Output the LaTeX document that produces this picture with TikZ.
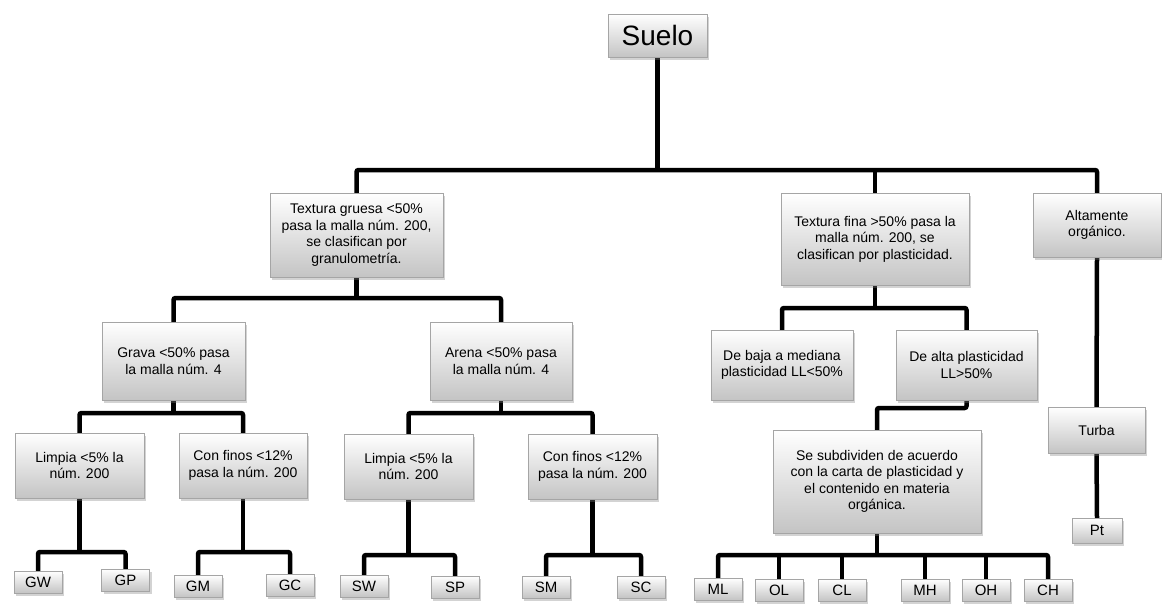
\documentclass[tikz,border=0pt]{standalone}
\usepackage{fontspec}
\setmainfont{Liberation Sans}
\usepackage{tikz}
\usetikzlibrary{shadows,calc,backgrounds}
\definecolor{boxline}{RGB}{165, 165, 165}
\definecolor{boxlow}{RGB}{196, 196, 196}

\tikzset{
  soilbox/.style={draw=boxline, line width=0.6pt, top color=white, bottom color=boxlow,
    drop shadow={shadow xshift=2pt, shadow yshift=-3pt, opacity=0.35},
    inner sep=0pt, align=center, font=\fontsize{14}{16.5}\selectfont},
  leafbox/.style={soilbox, minimum width=48pt, minimum height=22pt, font=\fontsize{15}{17}\selectfont},
  link/.style={line width=4.5pt, rounded corners=2pt, line cap=rect}
}

\begin{document}
\begin{tikzpicture}[x=1pt, y=-1pt]
        \useasboundingbox (0,0) rectangle (1162,603);
        % Root and first level
        \node[soilbox, minimum width=99pt, minimum height=43pt, font=\fontsize{28}{30}\selectfont] (suelo) at (657.5, 35.5) {Suelo};
        \node[soilbox, minimum width=173pt, minimum height=84pt] (gruesa) at (356.5, 235) {Textura gruesa <50\%\\pasa la malla núm. 200,\\se clasifican por\\granulometría.};
        \node[soilbox, minimum width=188pt, minimum height=92pt] (fina) at (875, 239) {Textura fina >50\% pasa la\\malla núm. 200, se\\clasifican por plasticidad.};
        \node[soilbox, minimum width=128pt, minimum height=64pt] (organico) at (1097, 225) {Altamente\\orgánico.};
        
        % Second level
        \node[soilbox, minimum width=143pt, minimum height=78pt] (grava) at (173.5, 361) {Grava <50\% pasa\\la malla núm. 4};
        \node[soilbox, minimum width=142pt, minimum height=78pt] (arena) at (501, 361) {Arena <50\% pasa\\la malla núm. 4};
        \node[soilbox, minimum width=142pt, minimum height=70pt] (baja) at (782, 365) {De baja a mediana\\plasticidad LL<50\%};
        \node[soilbox, minimum width=141pt, minimum height=70pt] (alta) at (966.5, 365) {De alta plasticidad\\LL>50\%};
        \node[soilbox, minimum width=97pt, minimum height=46pt] (turba) at (1096.5, 430) {Turba};
        
        % Third level
        \node[soilbox, minimum width=129pt, minimum height=65pt] (limpiaG) at (79.5, 465.5) {Limpia <5\% la\\núm. 200};
        \node[soilbox, minimum width=128pt, minimum height=65pt] (finosG) at (243, 465.5) {Con finos <12\%\\pasa la núm. 200};
        \node[soilbox, minimum width=129pt, minimum height=65pt] (limpiaS) at (408.5, 466.5) {Limpia <5\% la\\núm. 200};
        \node[soilbox, minimum width=129pt, minimum height=65pt] (finosS) at (592.5, 466.5) {Con finos <12\%\\pasa la núm. 200};
        \node[soilbox, minimum width=208pt, minimum height=103pt] (subdiv) at (877, 481.5) {Se subdividen de acuerdo\\con la carta de plasticidad y\\el contenido en materia\\orgánica.};
        
        % Group symbols
        \node[leafbox] (gw) at (38, 582) {GW};
        \node[leafbox] (gp) at (125.5, 580) {GP};
        \node[leafbox] (gm) at (198, 586) {GM};
        \node[leafbox] (gc) at (290, 585) {GC};
        \node[leafbox] (sw) at (364, 586) {SW};
        \node[leafbox] (sp) at (455, 587) {SP};
        \node[leafbox] (sm) at (546, 587) {SM};
        \node[leafbox] (sc) at (641, 587) {SC};
        \node[leafbox] (ml) at (718, 589) {ML};
        \node[leafbox] (ol) at (779, 590) {OL};
        \node[leafbox] (cl) at (842, 590) {CL};
        \node[leafbox] (mh) at (925, 590) {MH};
        \node[leafbox] (oh) at (986, 590) {OH};
        \node[leafbox] (ch) at (1048, 590) {CH};
        \node[leafbox, minimum width=50pt, minimum height=25pt] (pt) at (1097, 530.5) {Pt};
        
        % Bus heights
        \coordinate (bus1) at (0, 170);
        \coordinate (bus2) at (0, 298);
        \coordinate (bus3) at (0, 308);
        \coordinate (bus4) at (0, 413);
        \coordinate (bus5) at (0, 408);
        \coordinate (bus6) at (0, 552);
        \coordinate (bus7) at (0, 555);
        
        \begin{scope}[on background layer]
        % Suelo to first level
        \draw[link] (suelo.south) -- (suelo.south |- bus1);
        \draw[link] (gruesa.north) -- (gruesa.north |- bus1) -- (organico.north |- bus1) -- (organico.north);
        \draw[link] (fina.north) -- (fina.north |- bus1);
        
        % Textura gruesa
        \draw[link] (gruesa.south) -- (gruesa.south |- bus2);
        \draw[link] (grava.north) -- (grava.north |- bus2) -- (arena.north |- bus2) -- (arena.north);
        \draw[link] (grava.south) -- (grava.south |- bus4);
        \draw[link] (limpiaG.north) -- (limpiaG.north |- bus4) -- (finosG.north |- bus4) -- (finosG.north);
        \draw[link] (arena.south) -- (arena.south |- bus4);
        \draw[link] (limpiaS.north) -- (limpiaS.north |- bus4) -- (finosS.north |- bus4) -- (finosS.north);
        \draw[link] (limpiaG.south) -- (limpiaG.south |- bus6);
        \draw[link] (gw.north) -- (gw.north |- bus6) -- (gp.north |- bus6) -- (gp.north);
        \draw[link] (finosG.south) -- (finosG.south |- bus6);
        \draw[link] (gm.north) -- (gm.north |- bus6) -- (gc.north |- bus6) -- (gc.north);
        \draw[link] (limpiaS.south) -- (limpiaS.south |- bus7);
        \draw[link] (sw.north) -- (sw.north |- bus7) -- (sp.north |- bus7) -- (sp.north);
        \draw[link] (finosS.south) -- (finosS.south |- bus7);
        \draw[link] (sm.north) -- (sm.north |- bus7) -- (sc.north |- bus7) -- (sc.north);
        
        % Textura fina
        \draw[link] (fina.south) -- (fina.south |- bus3);
        \draw[link] (baja.north) -- (baja.north |- bus3) -- (alta.north |- bus3) -- (alta.north);
        \draw[link] (alta.south) -- (alta.south |- bus5) -- (subdiv.north |- bus5) -- (subdiv.north);
        \draw[link] (subdiv.south) -- (subdiv.south |- bus7);
        \draw[link] (ml.north) -- (ml.north |- bus7) -- (ch.north |- bus7) -- (ch.north);
        \foreach \leaf in {ol, cl, mh, oh}
          \draw[link] (\leaf.north) -- (\leaf.north |- bus7);
        
        % Altamente organico
        \draw[link] (organico.south) -- (turba.north);
        \draw[link] (turba.south) -- (pt.north);
        \end{scope}
    \end{tikzpicture}
\end{document}
